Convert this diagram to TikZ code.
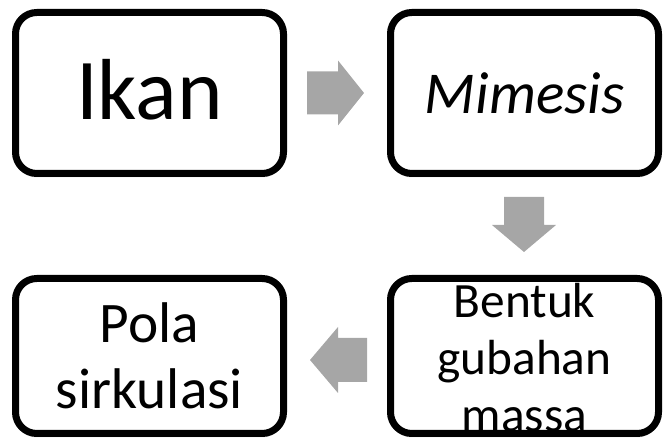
\documentclass[tikz,border=0pt]{standalone}
\usepackage{fontspec}
\setmainfont{Carlito}
\usetikzlibrary{shadows}

\definecolor{arrowgray}{RGB}{166,166,166}
\tikzset{every picture/.style={line width=0.75pt}}
\tikzset{
  stagebox/.style={draw, line width=5.25pt, rounded corners=16pt, fill=white,
    inner sep=0pt, minimum width=201pt, align=center,
    drop shadow={opacity=0.18, shadow xshift=0pt, shadow yshift=-3pt}},
  blockarrow/.style={fill=arrowgray}
}

\begin{document}
\begin{tikzpicture}[x=0.75pt,y=0.75pt,yscale=-1,xscale=1]
\useasboundingbox (0,0) rectangle (672,441);

% Text Node
\node[stagebox, minimum height=120.75pt, font=\fontsize{65}{78}\selectfont] (ikan) at (149.5,93) {\rule[-6pt]{0pt}{0pt}Ikan};
% Text Node
\node[stagebox, minimum height=120.75pt, font=\fontsize{44.5}{52}\selectfont] (mimesis) at (524.5,93) {\textit{Mimesis}};
% Text Node
\node[stagebox, minimum height=116.25pt, font=\fontsize{37}{42.5}\selectfont] (bentuk) at (524.5,356) {\rule{0pt}{28pt}Bentuk\\gubahan\\massa};
% Text Node
\node[stagebox, minimum height=116.25pt, font=\fontsize{43}{49.5}\selectfont] (pola) at (149.5,356) {Pola\\sirkulasi};

%Shape: Right Arrow
\fill[blockarrow] (307,71.5) -- (338,71.5) -- (338,60.5) -- (364,93) -- (338,125.5) -- (338,114.5) -- (307,114.5) -- cycle ;
%Shape: Down Arrow
\fill[blockarrow] (504,197) -- (544,197) -- (544,225) -- (556,225) -- (524,252) -- (492,225) -- (504,225) -- cycle ;
%Shape: Left Arrow
\fill[blockarrow] (367,338) -- (338,338) -- (338,327) -- (310,360) -- (338,393) -- (338,382) -- (367,382) -- cycle ;

\end{tikzpicture}
\end{document}
